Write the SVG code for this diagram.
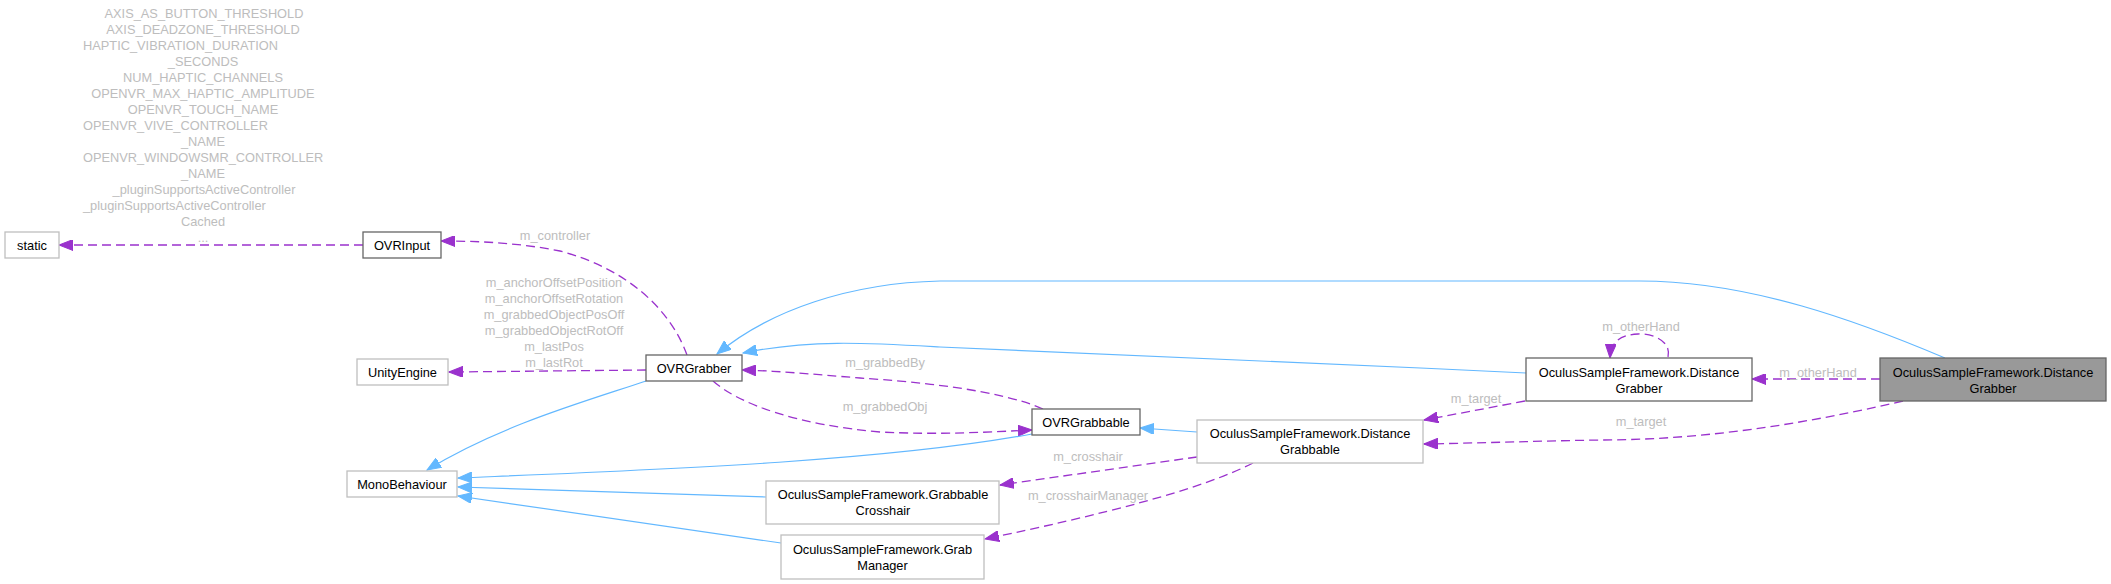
<svg xmlns="http://www.w3.org/2000/svg" width="2111" height="584" viewBox="0 0 2111 584">
<style>
text{font-family:"Liberation Sans",Arial,sans-serif;font-size:12.8px}
.n{fill:#000;text-anchor:middle}
.l{fill:#bdbdbd;text-anchor:middle}
.ls{fill:#bdbdbd;text-anchor:start}
.bx{fill:#fff;stroke:#bfbfbf;stroke-width:1.3}
.bd{fill:#fff;stroke:#666;stroke-width:1.3}
.bm{fill:#999;stroke:#666;stroke-width:1.3}
.eb{fill:none;stroke:#63b8ff;stroke-width:1.2;marker-end:url(#ab)}
.ep{fill:none;stroke:#9a32cd;stroke-width:1.3;stroke-dasharray:9,5;marker-end:url(#ap)}
</style>
<defs>
<marker id="ab" markerWidth="15" markerHeight="11" refX="14" refY="5.5" orient="auto" markerUnits="userSpaceOnUse"><path d="M0,0 L14,5.5 L0,11 z" fill="#63b8ff" stroke="#63b8ff" stroke-width="1"/></marker>
<marker id="ap" markerWidth="15" markerHeight="11" refX="14" refY="5.5" orient="auto" markerUnits="userSpaceOnUse"><path d="M0,0 L14,5.5 L0,11 z" fill="#9a32cd" stroke="#9a32cd" stroke-width="1" stroke-dasharray="none"/></marker>
</defs>
<rect width="2111" height="584" fill="#fff"/>
<g id="connectors">
<path class="ep" d="M363,245 L59,245"/>
<path class="ep" d="M687,355 C670,308 625,268 560,251 C520,243 480,241 441,241"/>
<path class="ep" d="M646,370 L449,372"/>
<path class="eb" d="M646,381 C590,400 500,425 427,470"/>
<path class="ep" d="M1043,409 C1000,390 920,382 860,378 C810,374 780,371 742,370"/>
<path class="ep" d="M713,381 C740,405 800,425 880,432 C940,435 990,432 1032,430"/>
<path class="eb" d="M1032,434 C880,462 650,470 458,478"/>
<path class="eb" d="M766,497 L458,487"/>
<path class="eb" d="M781,543 L458,496"/>
<path class="eb" d="M1197,432 L1140,428"/>
<path class="ep" d="M1197,457 L1000,485"/>
<path class="ep" d="M1253,463 C1200,490 1100,515 985,539"/>
<path class="eb" d="M1526,373 C1300,362 1050,352 940,347 C870,343 810,339 743,353"/>
<path class="eb" d="M1945,358 C1860,322 1750,281 1640,281 L940,281 C850,283 770,310 717,354"/>
<path class="ep" d="M1668,357 C1672,340 1650,333 1638,334 C1622,335 1611,340 1610,358"/>
<path class="ep" d="M1880,379 L1752,379"/>
<path class="ep" d="M1525,401 L1424,420"/>
<path class="ep" d="M1903,401 C1800,425 1700,440 1600,440 C1540,441 1480,443 1424,444"/>
<text class="l" x="204" y="18">AXIS_AS_BUTTON_THRESHOLD</text>
<text class="l" x="203" y="34">AXIS_DEADZONE_THRESHOLD</text>
<text class="ls" x="83" y="50">HAPTIC_VIBRATION_DURATION</text>
<text class="l" x="203" y="66">_SECONDS</text>
<text class="l" x="203" y="82">NUM_HAPTIC_CHANNELS</text>
<text class="l" x="203" y="98">OPENVR_MAX_HAPTIC_AMPLITUDE</text>
<text class="l" x="203" y="114">OPENVR_TOUCH_NAME</text>
<text class="ls" x="83" y="130">OPENVR_VIVE_CONTROLLER</text>
<text class="l" x="203" y="146">_NAME</text>
<text class="ls" x="83" y="162">OPENVR_WINDOWSMR_CONTROLLER</text>
<text class="l" x="203" y="178">_NAME</text>
<text class="l" x="204" y="194">_pluginSupportsActiveController</text>
<text class="ls" x="83" y="210">_pluginSupportsActiveController</text>
<text class="l" x="203" y="226">Cached</text>
<text class="l" x="203" y="242">...</text>
<text class="l" x="555" y="239.5">m_controller</text>
<text class="l" x="554" y="287">m_anchorOffsetPosition</text>
<text class="l" x="554" y="303">m_anchorOffsetRotation</text>
<text class="l" x="554" y="319">m_grabbedObjectPosOff</text>
<text class="l" x="554" y="335">m_grabbedObjectRotOff</text>
<text class="l" x="554" y="351">m_lastPos</text>
<text class="l" x="554" y="367">m_lastRot</text>
<text class="l" x="885" y="367">m_grabbedBy</text>
<text class="l" x="885" y="410.5">m_grabbedObj</text>
<text class="l" x="1088" y="461">m_crosshair</text>
<text class="l" x="1088" y="499.5">m_crosshairManager</text>
<text class="l" x="1476" y="403">m_target</text>
<text class="l" x="1641" y="426">m_target</text>
<text class="l" x="1641" y="331">m_otherHand</text>
<text class="l" x="1818" y="377">m_otherHand</text>
</g>
<g id="static"><rect class="bx" x="5" y="232" width="54" height="26"/><text class="n" x="32" y="249.5">static</text></g>
<g id="OVRInput"><rect class="bd" x="363" y="232" width="78" height="26"/><text class="n" x="402" y="249.5">OVRInput</text></g>
<g id="UnityEngine"><rect class="bx" x="357" y="359" width="91" height="26"/><text class="n" x="402.5" y="376.5">UnityEngine</text></g>
<g id="OVRGrabber"><rect class="bd" x="646" y="355" width="96" height="26"/><text class="n" x="694" y="372.5">OVRGrabber</text></g>
<g id="MonoBehaviour"><rect class="bx" x="347" y="471" width="110" height="26"/><text class="n" x="402" y="488.5">MonoBehaviour</text></g>
<g id="OVRGrabbable"><rect class="bd" x="1032" y="409" width="108" height="26"/><text class="n" x="1086" y="426.5">OVRGrabbable</text></g>
<g id="GrabbableCrosshair"><rect class="bx" x="766" y="481" width="233" height="43"/><text class="n" x="883" y="499">OculusSampleFramework.Grabbable</text><text class="n" x="883" y="514.5">Crosshair</text></g>
<g id="GrabManager"><rect class="bx" x="781" y="535" width="203" height="44"/><text class="n" x="882.5" y="554">OculusSampleFramework.Grab</text><text class="n" x="882.5" y="570">Manager</text></g>
<g id="DistanceGrabbable"><rect class="bx" x="1197" y="420" width="226" height="43"/><text class="n" x="1310" y="438">OculusSampleFramework.Distance</text><text class="n" x="1310" y="453.5">Grabbable</text></g>
<g id="DistanceGrabber"><rect class="bd" x="1526" y="358" width="226" height="43"/><text class="n" x="1639" y="377">OculusSampleFramework.Distance</text><text class="n" x="1639" y="393">Grabber</text></g>
<g id="MainDistanceGrabber"><rect class="bm" x="1880" y="358" width="226" height="43"/><text class="n" x="1993" y="377">OculusSampleFramework.Distance</text><text class="n" x="1993" y="393">Grabber</text></g>
</svg>
